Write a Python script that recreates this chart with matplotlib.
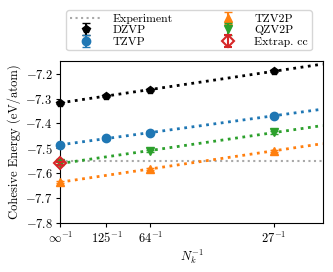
import numpy as np
import matplotlib
matplotlib.use("Agg")
import matplotlib.pyplot as plt

plt.rcParams.update({
    "font.family": "serif",
    "font.serif": ["cmr10", "DejaVu Serif"],
    "mathtext.fontset": "cm",
    "axes.formatter.use_mathtext": True,
    "font.size": 9,
    "axes.unicode_minus": True,
    "xtick.major.size": 3,
    "ytick.major.size": 3,
    "xtick.major.pad": 2.5,
    "ytick.major.pad": 2.5,
})

nk_dzvp = [np.inf, 125, 64, 27]
e_dzvp = [-7.317, -7.289, -7.265, -7.190]
nk_tzvp = [np.inf, 125, 64, 27]
e_tzvp = [-7.486, -7.460, -7.437, -7.369]
nk_tzv2p = [np.inf, 64, 27]
e_tzv2p = [-7.636, -7.582, -7.510]
nk_qzv2p = [np.inf, 64, 27]
e_qzv2p = [-7.560, -7.510, -7.436]
nk_extrap = [np.inf]
e_extrap = [-7.560]
e_experiment = -7.549

tick_nk = [np.inf, 125, 64, 27]
tick_labels = [r"$\infty^{-1}$", r"$125^{-1}$", r"$64^{-1}$", r"$27^{-1}$"]

fig = plt.figure(figsize=(3.33, 2.72), dpi=100)
ax = fig.add_axes([0.181, 0.18, 0.788, 0.595])

xmax = 1 / 22
xs = np.linspace(0, xmax, 50)

ax.axhline(e_experiment, color="darkgray", ls=":", lw=1.5, label="Experiment")

series = [
    (nk_dzvp, e_dzvp, "black", "p", "DZVP"),
    (nk_tzvp, e_tzvp, "tab:blue", "o", "TZVP"),
    (nk_tzv2p, e_tzv2p, "tab:orange", "^", "TZV2P"),
    (nk_qzv2p, e_qzv2p, "tab:green", "v", "QZV2P"),
]
for nk, e, c, m, lab in series:
    x = 1 / np.array(nk, dtype=float)
    p = np.polyfit(x, e, 1)
    ax.plot(xs, np.polyval(p, xs), color=c, ls=":", lw=2)
    ax.errorbar(x, e, yerr=0.005, fmt=m, color=c, ms=6, capsize=3, label=lab, clip_on=False, zorder=3)

xe = 1 / np.array(nk_extrap, dtype=float)
ax.errorbar(xe, e_extrap, yerr=0.005, fmt="D", color="tab:red", mfc="none", mew=1.5,
            ms=6, capsize=3, label="Extrap. cc", clip_on=False, zorder=4)

ax.set_xlim(0, xmax)
ax.set_ylim(-7.8, -7.15)
ax.set_yticks([-7.8, -7.7, -7.6, -7.5, -7.4, -7.3, -7.2])
ax.set_xticks(1 / np.array(tick_nk, dtype=float))
ax.set_xticklabels(tick_labels)
ax.set_xlabel(r"$N_k^{-1}$", labelpad=1)
ax.set_ylabel("Cohesive Energy (eV/atom)", labelpad=3)

handles, labels = ax.get_legend_handles_labels()
ax.legend(handles, labels, ncol=2, loc="lower left", bbox_to_anchor=(0.0, 1.03, 0.98, 0.2),
          mode="expand", fontsize=8.5, handlelength=2.8, labelspacing=0.1, handletextpad=0.8,
          borderpad=0.3, frameon=True)

fig.savefig("out.png", dpi=100)
